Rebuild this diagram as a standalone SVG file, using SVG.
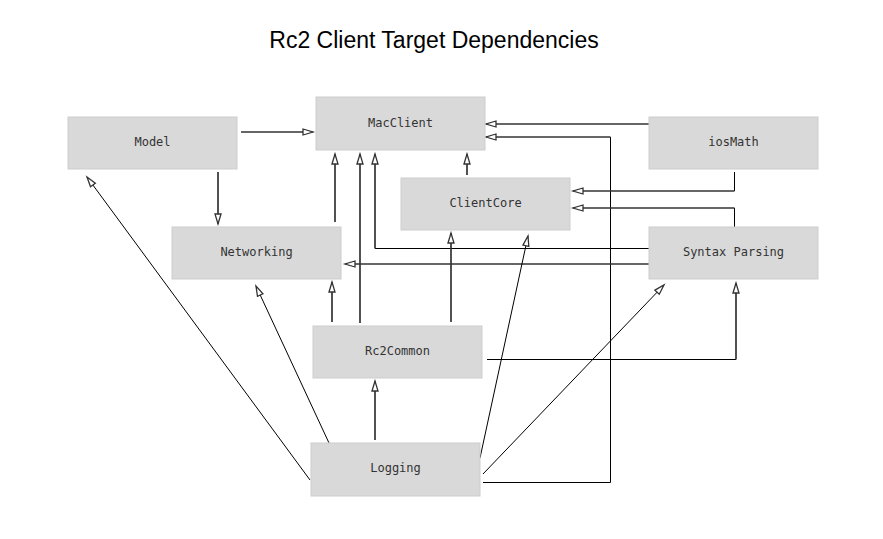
<svg xmlns="http://www.w3.org/2000/svg" width="883" height="539" viewBox="0 0 883 539">
  <style>
    .node rect { fill: #d9d9d9; stroke: #cdcdcd; stroke-width: 1; }
    .node text { font-family: "DejaVu Sans Mono", "Liberation Mono", monospace; font-size: 12px; fill: #333; text-anchor: middle; }
    .title { font-family: "Liberation Sans", Arial, sans-serif; font-size: 23px; fill: #000; text-anchor: middle; }
    .edge { fill: none; }
    .thick { stroke: #333; stroke-width: 1.7; }
    .thin { stroke: #000; stroke-width: 1; }
    .arr { marker-end: url(#head); }
  </style>
  <defs>
    <marker id="head" markerUnits="userSpaceOnUse" markerWidth="14" markerHeight="10" refX="11" refY="4" orient="auto">
      <path d="M1,1 L11,4 L1,7 Z" fill="#fff" stroke="#333" stroke-width="1.3"/>
    </marker>
  </defs>

  <rect width="883" height="539" fill="#fff"/>
  <text class="title" x="434" y="48">Rc2 Client Target Dependencies</text>

  <g id="connectors">
    <!-- Model -> MacClient -->
    <path class="edge thick arr" d="M241,132 H313"/>
    <!-- Model -> Networking -->
    <path class="edge thick arr" d="M218,172 V224"/>
    <!-- Networking -> MacClient -->
    <path class="edge thick arr" d="M335,222 V154"/>
    <!-- Rc2Common -> MacClient -->
    <path class="edge thick arr" d="M360,323 V154"/>
    <!-- Syntax Parsing -> MacClient -->
    <g>
      <path class="edge thin" d="M649,248.5 H375"/>
      <path class="edge thick arr" d="M375,248.5 V154"/>
    </g>
    <!-- ClientCore -> MacClient -->
    <path class="edge thick arr" d="M467,175 V154"/>
    <!-- iosMath -> MacClient -->
    <path class="edge thick arr" d="M649,124 H486"/>
    <!-- Logging -> MacClient -->
    <g>
      <path class="edge thin" d="M483,482.5 H610.5 V137"/>
      <path class="edge thick arr" d="M610.5,137 H486"/>
    </g>
    <!-- iosMath -> ClientCore -->
    <g>
      <path class="edge thin" d="M734.5,172 V191"/>
      <path class="edge thick arr" d="M734.5,191 H573"/>
    </g>
    <!-- Syntax Parsing -> ClientCore -->
    <g>
      <path class="edge thin" d="M734.5,227 V208"/>
      <path class="edge thick arr" d="M734.5,208 H573"/>
    </g>
    <!-- Syntax Parsing -> Networking -->
    <path class="edge thick arr" d="M649,264 H345"/>
    <!-- Rc2Common -> ClientCore -->
    <path class="edge thick arr" d="M451,322 V233"/>
    <!-- Logging -> ClientCore -->
    <path class="edge thin arr" d="M480,458 L528,236"/>
    <!-- Logging -> Syntax Parsing -->
    <path class="edge thin arr" d="M483,474 L664,285"/>
    <!-- Rc2Common -> Syntax Parsing -->
    <g>
      <path class="edge thin" d="M487,359.5 H736"/>
      <path class="edge thick arr" d="M736,359.5 V283"/>
    </g>
    <!-- Logging -> Rc2Common -->
    <path class="edge thick arr" d="M375,440 V381"/>
    <!-- Rc2Common -> Networking -->
    <path class="edge thick arr" d="M332,322 V282"/>
    <!-- Logging -> Networking -->
    <path class="edge thin arr" d="M329,443 L256,286"/>
    <!-- Logging -> Model -->
    <path class="edge thin arr" d="M310,480 L87,177"/>
  </g>

  <g id="model" class="node">
    <rect x="68" y="117" width="169" height="52"/>
    <text x="152.5" y="146">Model</text>
  </g>
  <g id="macclient" class="node">
    <rect x="316" y="97" width="169" height="53"/>
    <text x="400.5" y="127">MacClient</text>
  </g>
  <g id="clientcore" class="node">
    <rect x="401" y="178" width="169" height="52"/>
    <text x="485.5" y="207">ClientCore</text>
  </g>
  <g id="iosmath" class="node">
    <rect x="649" y="117" width="169" height="52"/>
    <text x="733.5" y="146">iosMath</text>
  </g>
  <g id="syntaxparsing" class="node">
    <rect x="649" y="227" width="169" height="52"/>
    <text x="733.5" y="256">Syntax Parsing</text>
  </g>
  <g id="networking" class="node">
    <rect x="172" y="227" width="169" height="52"/>
    <text x="256.5" y="256">Networking</text>
  </g>
  <g id="rc2common" class="node">
    <rect x="313" y="326" width="169" height="52"/>
    <text x="397.5" y="355">Rc2Common</text>
  </g>
  <g id="logging" class="node">
    <rect x="311" y="443" width="169" height="53"/>
    <text x="395.5" y="472">Logging</text>
  </g>
</svg>
